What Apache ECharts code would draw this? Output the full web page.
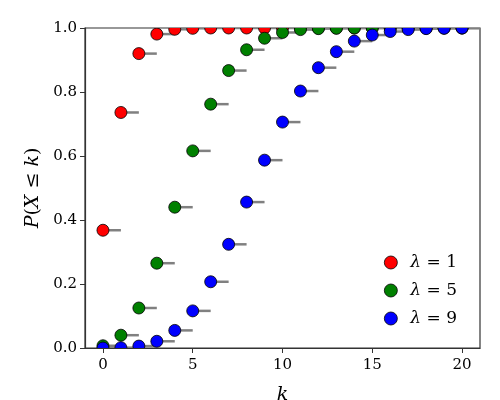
<!DOCTYPE html>
<html>
<head>
<meta charset="utf-8">
<script src="https://cdn.jsdelivr.net/npm/echarts@6/dist/echarts.min.js"></script>
<style>
  html, body { margin: 0; padding: 0; background: #fff; }
  #chart { width: 500px; height: 400px; }
</style>
</head>
<body>
<div id="chart"></div>
<script>
// k = 0..20
var ks = [0, 1, 2, 3, 4, 5, 6, 7, 8, 9, 10, 11, 12, 13, 14, 15, 16, 17, 18, 19, 20];
// P(X <= k)
var cdfLam1 = [0.368, 0.736, 0.920, 0.981, 0.996, 0.999, 1.0, 1.0, 1.0, 1.0, 1.0, 1.0, 1.0, 1.0, 1.0, 1.0, 1.0, 1.0, 1.0, 1.0, 1.0];
var cdfLam5 = [0.007, 0.040, 0.125, 0.265, 0.440, 0.616, 0.762, 0.867, 0.932, 0.968, 0.986, 0.995, 0.998, 0.999, 1.0, 1.0, 1.0, 1.0, 1.0, 1.0, 1.0];
var cdfLam9 = [0.000, 0.001, 0.006, 0.021, 0.055, 0.116, 0.207, 0.324, 0.456, 0.587, 0.706, 0.803, 0.876, 0.926, 0.959, 0.978, 0.989, 0.995, 0.998, 0.999, 1.0];
var lambdas = ['1', '5', '9'];
var colors = ['#ff0000', '#008000', '#0000ff'];
var xTicks = [0, 5, 10, 15, 20];
var yTicks = [0, 0.2, 0.4, 0.6, 0.8, 1.0];

var serif = 'DejaVu Serif';
var chart = echarts.init(document.getElementById('chart'));

function pairs(vals) {
    return ks.map(function (k, i) { return [k, vals[i]]; });
}

function frameClip(params) {
    var c = params.coordSys;
    return { type: 'rect', shape: { x: c.x, y: c.y, width: c.width, height: c.height } };
}

// gray step from k to k+1
function stepSeries(vals) {
    return {
        type: 'custom',
        z: 1,
        silent: true,
        renderItem: function (params, api) {
            var a = api.coord([api.value(0), api.value(1)]);
            var b = api.coord([api.value(0) + 1, api.value(1)]);
            return {
                type: 'line',
                clipPath: frameClip(params),
                shape: { x1: a[0], y1: a[1], x2: b[0], y2: b[1] },
                style: { stroke: '#808080', lineWidth: 2.5 }
            };
        },
        data: pairs(vals)
    };
}

// dots drawn as circles so they get cut at the frame like the reference
function dotSeries(vals, i) {
    return {
        name: 'λ' + lambdas[i],
        type: 'custom',
        z: 3,
        itemStyle: { color: colors[i], borderColor: '#000', borderWidth: 0.8 },
        renderItem: function (params, api) {
            var p = api.coord([api.value(0), api.value(1)]);
            return {
                type: 'circle',
                clipPath: frameClip(params),
                shape: { cx: p[0], cy: p[1], r: 6 },
                style: { fill: colors[i], stroke: '#000', lineWidth: 0.8 }
            };
        },
        data: pairs(vals)
    };
}

var allVals = [cdfLam1, cdfLam5, cdfLam9];
var series = [];
allVals.forEach(function (v) { series.push(stepSeries(v)); });
allVals.forEach(function (v, i) { series.push(dotSeries(v, i)); });

var option = {
    animation: false,
    textStyle: { fontFamily: serif },
    grid: {
        left: 85, right: 20, top: 28, bottom: 52,
        outerBoundsMode: 'none',
        containLabel: false,
        show: true, borderColor: '#333', borderWidth: 1.2
    },
    legend: {
        orient: 'vertical',
        right: 38,
        bottom: 68,
        itemGap: 11,
        icon: 'circle',
        itemWidth: 13,
        itemHeight: 13,
        itemStyle: { borderColor: '#000', borderWidth: 0.8 },
        data: lambdas.map(function (l, i) {
            return { name: 'λ' + l, itemStyle: { color: colors[i] } };
        }),
        formatter: function (name) {
            return '{i|λ} = ' + name.slice(1);
        },
        textStyle: {
            fontFamily: serif, fontSize: 17, color: '#000', padding: [0, 0, 0, 8],
            rich: { i: { fontFamily: serif, fontStyle: 'italic', fontSize: 17 } }
        }
    },
    xAxis: {
        type: 'value',
        min: -1,
        max: 21,
        name: 'k',
        nameLocation: 'middle',
        nameGap: 38,
        nameTextStyle: { fontFamily: serif, fontStyle: 'italic', fontSize: 19, color: '#000' },
        axisLine: { onZero: false, lineStyle: { color: '#333', width: 1.2 } },
        axisTick: { show: true, length: 5, lineStyle: { color: '#333' }, customValues: xTicks },
        axisLabel: { fontSize: 15, color: '#000', margin: 10, customValues: xTicks },
        splitLine: { show: false }
    },
    yAxis: {
        type: 'value',
        min: 0,
        max: 1,
        interval: 0.2,
        name: '{i|P}({i|X} ≤ {i|k})',
        nameLocation: 'middle',
        nameGap: 41,
        nameRotate: 90,
        nameTextStyle: {
            fontFamily: serif, fontSize: 19, color: '#000',
            rich: { i: { fontFamily: serif, fontStyle: 'italic', fontSize: 19 } }
        },
        axisLine: { show: true, onZero: false, lineStyle: { color: '#333', width: 1.2 } },
        axisTick: { show: true, length: 5, lineStyle: { color: '#333' }, customValues: yTicks },
        axisLabel: {
            fontSize: 15, color: '#000', margin: 8, customValues: yTicks,
            formatter: function (v) { return v.toFixed(1); }
        },
        splitLine: { show: false }
    },
    series: series
};
chart.setOption(option);
</script>
</body>
</html>
